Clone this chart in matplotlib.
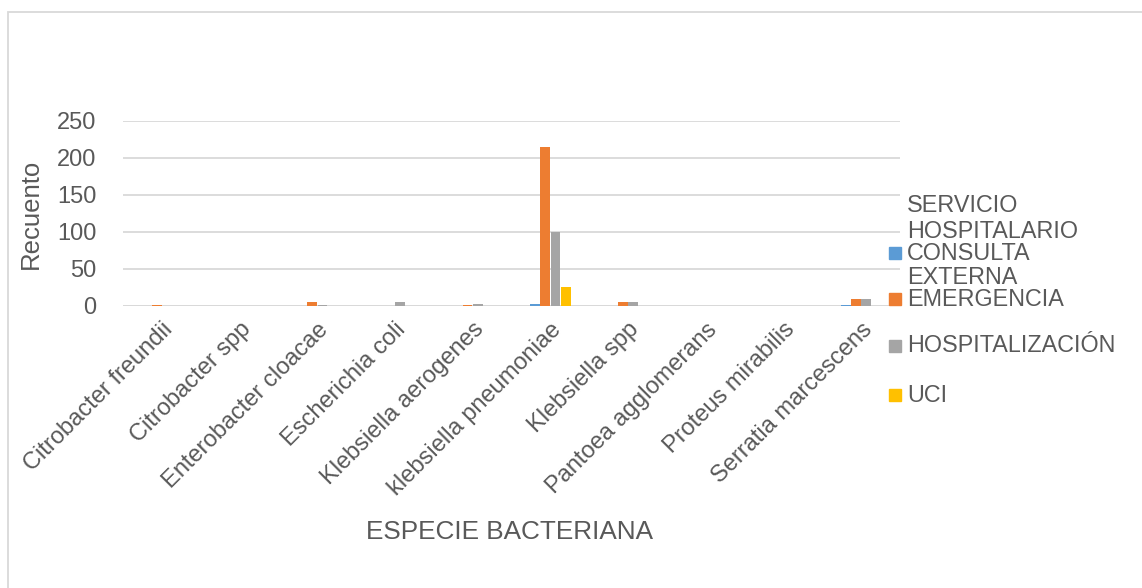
import matplotlib
matplotlib.use("Agg")
import matplotlib.pyplot as plt
from matplotlib.patches import Rectangle
import numpy as np

plt.rcParams['font.family'] = ['Liberation Sans', 'DejaVu Sans']

especies = ["Citrobacter freundii", "Citrobacter spp", "Enterobacter cloacae",
            "Escherichia coli", "Klebsiella aerogenes", "klebsiella pneumoniae",
            "Klebsiella spp", "Pantoea agglomerans", "Proteus mirabilis",
            "Serratia marcescens"]
consulta_externa = [0, 0, 0, 0, 0, 3, 0, 0, 0, 1]
emergencia = [1, 0, 5, 0, 1, 214, 5, 0, 0, 10]
hospitalizacion = [0, 0, 1, 5, 3, 100, 5, 0, 0, 10]
uci = [0, 0, 0, 0, 0, 26, 0, 0, 0, 0]

series = [("CONSULTA\nEXTERNA", consulta_externa, "#5B9BD5"),
          ("EMERGENCIA", emergencia, "#ED7D31"),
          ("HOSPITALIZACIÓN", hospitalizacion, "#A5A5A5"),
          ("UCI", uci, "#FFC000")]

W, H = 1142, 588
fig = plt.figure(figsize=(W / 100, H / 100), dpi=100)
ax = fig.add_axes([123 / W, 1 - 306 / H, (900 - 123) / W, (306 - 120.5) / H])

text_col = "#595959"
x = np.arange(len(especies))
bw = 0.125
step = 0.133
for i, (name, vals, col) in enumerate(series):
    ax.bar(x + (i - 1.5) * step, vals, width=bw, color=col, zorder=3)

ax.set_xlim(-0.5, len(especies) - 0.5)
ax.set_ylim(0, 250)
ax.set_yticks([0, 50, 100, 150, 200, 250])
ax.yaxis.grid(True, color="#D9D9D9", linewidth=1.3, zorder=0)
for s in ax.spines.values():
    s.set_visible(False)
ax.tick_params(axis="both", length=0, colors=text_col, labelsize=17)
ax.tick_params(axis="y", pad=19)
ax.set_xticks(x)
ax.set_xticklabels(especies, rotation=45, ha="right", rotation_mode="anchor",
                   color=text_col, fontsize=17)
ax.tick_params(axis="x", pad=9)
ax.axhline(0, color="#D9D9D9", linewidth=1.3, zorder=2)

fig.text(31 / W, 1 - 214 / H, "Recuento", rotation=90, ha="center", va="center",
         fontsize=18.5, color=text_col)
fig.text(510 / W, 1 - 532 / H, "ESPECIE BACTERIANA", ha="center", va="center",
         fontsize=18.8, color=text_col)

# legend drawn by hand
lx = 907 / W
lfs = 16.8
fig.text(lx, 1 - 205 / H, "SERVICIO", ha="left", va="center", fontsize=lfs, color=text_col)
fig.text(lx, 1 - 232 / H, "HOSPITALARIO", ha="left", va="center", fontsize=lfs, color=text_col)
entries = [("CONSULTA", "EXTERNA", 253, "#5B9BD5"),
           ("EMERGENCIA", None, 299, "#ED7D31"),
           ("HOSPITALIZACIÓN", None, 346, "#A5A5A5"),
           ("UCI", None, 395, "#FFC000")]
for t1, t2, yy, col in entries:
    fig.patches.append(Rectangle((889 / W, 1 - (yy + 6) / H), 12 / W, 12 / H,
                                 transform=fig.transFigure, color=col))
    fig.text(lx, 1 - yy / H, t1, ha="left", va="center", fontsize=lfs, color=text_col)
    if t2:
        fig.text(lx, 1 - (yy + 24) / H, t2, ha="left", va="center", fontsize=lfs, color=text_col)

# chart frame
fig.patches.append(Rectangle((7.5 / W, -0.1), 1.2, 1 - 12.5 / H + 0.1,
                             transform=fig.transFigure, fill=False,
                             edgecolor="#D9D9D9", linewidth=1.3))

fig.savefig("out.png", dpi=100, facecolor="white")
